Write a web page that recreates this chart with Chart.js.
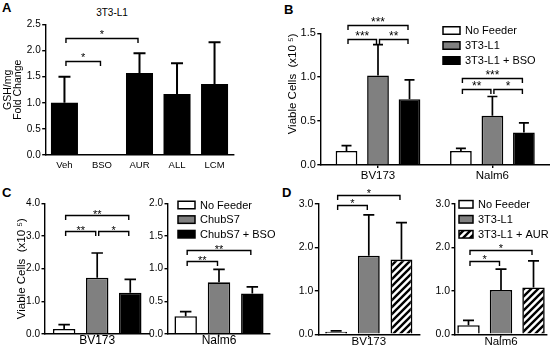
<!DOCTYPE html>
<html>
<head>
<meta charset="utf-8">
<script src="https://cdn.jsdelivr.net/npm/chart.js@4.4.1/dist/chart.umd.min.js"></script>
<style>
  html, body { margin: 0; padding: 0; background: #fff; overflow: hidden; }
  body { position: relative; width: 550px; height: 351px; font-family: "Liberation Sans", Arial, sans-serif; color: #000; }
  canvas, .txt { position: absolute; }
  .letter { font-weight: bold; font-size: 13px; line-height: 15px; }
</style>
</head>
<body>
<div class="txt letter" style="left:2px;top:0px">A</div>
<div class="txt letter" style="left:284px;top:2px">B</div>
<div class="txt letter" style="left:2px;top:185px">C</div>
<div class="txt letter" style="left:282px;top:185px">D</div>
<div class="txt" style="left:62px;top:7px;width:100px;text-align:center;font-size:10px;line-height:12px">3T3-L1</div>

<canvas id="chartA"></canvas>
<canvas id="chartB"></canvas>
<canvas id="chartC1"></canvas>
<canvas id="chartC2"></canvas>
<canvas id="chartD1"></canvas>
<canvas id="chartD2"></canvas>

<script>
// ---- A: GSH/mg fold change, 3T3-L1
const aLabels = ["Veh", "BSO", "AUR", "ALL", "LCM"];
const aMean = [1.0, null, 1.57, 1.17, 1.36];
const aSD = [0.5, null, 0.38, 0.59, 0.8];
// [fromCat, toCat, y, text]
const aBrackets = [[0, 2, 2.25, "*"], [0, 1, 1.8, "*"]];

// ---- B: viable cells with 3T3-L1 +/- BSO
const bLabels = ["BV173", "Nalm6"];
const bNoFeeder = [0.16, 0.16];
const bNoFeederSD = [0.06, 0.03];
const b3T3 = [1.02, 0.56];
const b3T3SD = [0.35, 0.22];
const b3T3BSO = [0.75, 0.37];
const b3T3BSOSD = [0.22, 0.11];
// [cat, fromSeries, toSeries, y, text]
const bBrackets = [
  [0, 0, 2, 1.6, "***"], [0, 0, 1, 1.44, "***"], [0, 1, 2, 1.44, "**"],
  [1, 0, 2, 0.99, "***"], [1, 0, 1, 0.86, "**"], [1, 1, 2, 0.86, "*"],
];

// ---- C: ChubS7 +/- BSO
const cLeftLabels = ["BV173"];
const cLeftNoFeeder = [0.15], cLeftNoFeederSD = [0.13];
const cLeftChub = [1.72], cLeftChubSD = [0.76];
const cLeftChubBSO = [1.26], cLeftChubBSOSD = [0.41];
const cLeftBrackets = [[0, 0, 2, 3.65, "**"], [0, 0, 1, 3.16, "**"], [0, 1, 2, 3.16, "*"]];

const cRightLabels = ["Nalm6"];
const cRightNoFeeder = [0.27], cRightNoFeederSD = [0.07];
const cRightChub = [0.79], cRightChubSD = [0.2];
const cRightChubBSO = [0.62], cRightChubBSOSD = [0.1];
const cRightBrackets = [[0, 0, 2, 1.29, "**"], [0, 0, 1, 1.12, "**"]];

// ---- D: 3T3-L1 +/- AUR
const dLeftLabels = ["BV173"];
const dLeftNoFeeder = [0.06], dLeftNoFeederSD = [0.02];
const dLeft3T3 = [1.81], dLeft3T3SD = [0.94];
const dLeft3T3AUR = [1.72], dLeft3T3AURSD = [0.85];
const dLeftBrackets = [[0, 0, 2, 3.21, "*"], [0, 0, 1, 2.97, "*"]];

const dRightLabels = ["Nalm6"];
const dRightNoFeeder = [0.21], dRightNoFeederSD = [0.11];
const dRight3T3 = [1.02], dRight3T3SD = [0.48];
const dRight3T3AUR = [1.08], dRight3T3AURSD = [0.61];
const dRightBrackets = [[0, 0, 2, 1.93, "*"], [0, 0, 1, 1.68, "*"]];

const FONT = '"Liberation Sans", Arial, sans-serif';
Chart.defaults.font.family = FONT;
Chart.defaults.color = "#000";

const GREY = "#808080";

function hatchPattern() {
  const c = document.createElement("canvas");
  c.width = 7;
  c.height = 7;
  const g = c.getContext("2d");
  g.fillStyle = "#fff";
  g.fillRect(0, 0, 7, 7);
  g.strokeStyle = "#000";
  g.lineWidth = 2.4;
  g.beginPath();
  g.moveTo(0, 7); g.lineTo(7, 0);
  g.moveTo(-1, 1); g.lineTo(1, -1);
  g.moveTo(6, 8); g.lineTo(8, 6);
  g.stroke();
  return g.createPattern(c, "repeat");
}
const HATCH = hatchPattern();

function barX(chart, ds, idx) {
  const el = chart.getDatasetMeta(ds).data[idx];
  return el && isFinite(el.x) ? el.x : chart.scales.x.getPixelForValue(idx);
}

// error bars (upward only), significance brackets, legend
const extras = {
  id: "extras",
  afterDatasetsDraw(chart, args, o) {
    const ctx = chart.ctx;
    const y = chart.scales.y;
    ctx.save();
    ctx.strokeStyle = "#000";
    ctx.fillStyle = "#000";

    ctx.lineWidth = o.errWidth;
    chart.data.datasets.forEach((ds, i) => {
      chart.getDatasetMeta(i).data.forEach((bar, j) => {
        if (ds.data[j] == null || !ds.sd) return;
        const top = y.getPixelForValue(ds.data[j] + ds.sd[j]);
        ctx.beginPath();
        ctx.moveTo(bar.x, bar.y);
        ctx.lineTo(bar.x, top);
        ctx.moveTo(bar.x - o.cap / 2, top);
        ctx.lineTo(bar.x + o.cap / 2, top);
        ctx.stroke();
      });
    });

    ctx.lineWidth = 1.4;
    ctx.font = o.starSize + "px " + FONT;
    ctx.textAlign = "center";
    ctx.textBaseline = "alphabetic";
    (o.brackets || []).forEach(([a, b, v, t]) => {
      const x1 = barX(chart, a[0], a[1]) + 1.5;
      const x2 = barX(chart, b[0], b[1]) - 1.5;
      const py = Math.round(y.getPixelForValue(v)) + 0.5;
      ctx.beginPath();
      ctx.moveTo(x1, py + 4.5);
      ctx.lineTo(x1, py);
      ctx.lineTo(x2, py);
      ctx.lineTo(x2, py + 4.5);
      ctx.stroke();
      ctx.fillText(t, (x1 + x2) / 2, py + o.starDy);
    });

    if (o.legend) {
      const L = o.legend;
      ctx.font = "11px " + FONT;
      ctx.textAlign = "left";
      ctx.textBaseline = "middle";
      ctx.lineWidth = 1.5;
      chart.data.datasets.forEach((ds, i) => {
        const cy = L.y + i * L.row;
        ctx.fillStyle = ds.backgroundColor;
        ctx.fillRect(L.x, cy - L.boxH / 2, L.boxW, L.boxH);
        ctx.strokeRect(L.x, cy - L.boxH / 2, L.boxW, L.boxH);
        ctx.fillStyle = "#000";
        ctx.fillText(ds.label, L.x + L.boxW + 5, cy + 0.5);
      });
    }
    ctx.restore();
  },
};

function series(label, color, data, sd) {
  return { label, data, sd, backgroundColor: color };
}

// g = canvas box and chart area in page pixels
function panel(id, g, labels, datasets, o) {
  const el = document.getElementById(id);
  el.width = g.w;
  el.height = g.h;
  el.style.left = g.x + "px";
  el.style.top = g.y + "px";
  if (o.legend) o.legend = { ...o.legend, x: o.legend.x - g.x, y: o.legend.y - g.y };

  return new Chart(el, {
    type: "bar",
    data: { labels, datasets },
    plugins: [extras],
    options: {
      responsive: false,
      animation: false,
      devicePixelRatio: 1,
      layout: {
        autoPadding: false,
        padding: { left: 0, top: g.top - g.y, right: g.x + g.w - g.right, bottom: 0 },
      },
      datasets: {
        bar: {
          categoryPercentage: o.catPct,
          barPercentage: o.barPct,
          borderColor: "#000",
          borderWidth: o.barBorder,
        },
      },
      plugins: {
        legend: { display: false },
        tooltip: { enabled: false },
        extras: o,
      },
      scales: {
        x: {
          border: { display: true, color: "#000", width: 1.4 },
          grid: {
            drawOnChartArea: false,
            drawTicks: o.xTicks,
            tickLength: 3,
            color: "#000",
            lineWidth: 1.4,
            offset: false,
          },
          ticks: {
            font: { size: o.xFont, lineHeight: 1 },
            padding: o.xPad,
            maxRotation: 0,
            autoSkip: false,
          },
          afterFit: (s) => {
            s.height = g.y + g.h - g.bottom;
            s.paddingLeft = 0;
            s.paddingRight = 0;
          },
        },
        y: {
          min: 0,
          max: o.max,
          border: { display: true, color: "#000", width: 1.4 },
          grid: {
            drawOnChartArea: false,
            drawTicks: true,
            tickLength: 3.5,
            color: "#000",
            lineWidth: 1.4,
          },
          ticks: {
            stepSize: o.step,
            font: { size: o.yFont },
            padding: 1.5,
            callback: (v) => v.toFixed(1),
          },
          title: o.yTitle || { display: false },
          afterFit: (s) => {
            s.width = g.left - g.x;
            s.paddingTop = 0;
            s.paddingBottom = 0;
          },
        },
      },
    },
  });
}

const cellsTitle = (size, pad, align) => ({
  display: true,
  text: "Viable Cells  (x10 \u2075)",
  font: { size, lineHeight: 1.2 },
  padding: { top: pad, bottom: 0 },
  align,
});

panel(
  "chartA",
  { x: 0, y: 0, w: 240, h: 175, left: 45.7, top: 24.5, right: 233.3, bottom: 155 },
  aLabels,
  [{ label: "3T3-L1", data: aMean, sd: aSD, backgroundColor: "#000", borderWidth: 0 }],
  {
    max: 2.5, step: 0.5, yFont: 10, xFont: 9.5, xPad: 5.5, xTicks: false,
    catPct: 1, barPct: 0.72, barBorder: 0, errWidth: 2, cap: 12,
    starSize: 11, starDy: -0.5,
    brackets: aBrackets.map(([i, j, v, t]) => [[0, i], [0, j], v, t]),
    yTitle: {
      display: true,
      text: ["GSH/mg", "Fold Change"],
      font: { size: 10.5, lineHeight: 0.9 },
      padding: { top: 3.8, bottom: 0 },
    },
  }
);

const grouped = (list) => list.map(([c, a, b, v, t]) => [[a, c], [b, c], v, t]);

panel(
  "chartB",
  { x: 285, y: 0, w: 265, h: 185, left: 320.8, top: 33.3, right: 549.6, bottom: 165 },
  bLabels,
  [
    series("No Feeder", "#fff", bNoFeeder, bNoFeederSD),
    series("3T3-L1", GREY, b3T3, b3T3SD),
    series("3T3-L1 + BSO", "#000", b3T3BSO, b3T3BSOSD),
  ],
  {
    max: 1.5, step: 0.5, yFont: 11, xFont: 11.5, xPad: 2, xTicks: true,
    catPct: 0.826, barPct: 0.69, barBorder: 1.6, errWidth: 1.7, cap: 10,
    starSize: 12, starDy: 0.5,
    brackets: grouped(bBrackets),
    legend: { x: 443, y: 30.5, row: 15, boxW: 17, boxH: 7.5 },
    yTitle: cellsTitle(11.5, 0.6, "end"),
  }
);

panel(
  "chartC1",
  { x: 0, y: 178, w: 152, h: 173, left: 45, top: 203.5, right: 149.4, bottom: 333.8 },
  cLeftLabels,
  [
    series("No Feeder", "#fff", cLeftNoFeeder, cLeftNoFeederSD),
    series("ChubS7", GREY, cLeftChub, cLeftChubSD),
    series("ChubS7 + BSO", "#000", cLeftChubBSO, cLeftChubBSOSD),
  ],
  {
    max: 4, step: 1, yFont: 10, xFont: 12, xPad: -2, xTicks: true,
    catPct: 0.95, barPct: 0.68, barBorder: 1.6, errWidth: 1.7, cap: 11.5,
    starSize: 11, starDy: 2.5,
    brackets: grouped(cLeftBrackets),
    yTitle: cellsTitle(11.5, 14.5, "center"),
  }
);

panel(
  "chartC2",
  { x: 140, y: 178, w: 145, h: 173, left: 168, top: 203.5, right: 270, bottom: 333.8 },
  cRightLabels,
  [
    series("No Feeder", "#fff", cRightNoFeeder, cRightNoFeederSD),
    series("ChubS7", GREY, cRightChub, cRightChubSD),
    series("ChubS7 + BSO", "#000", cRightChubBSO, cRightChubBSOSD),
  ],
  {
    max: 2, step: 0.5, yFont: 10, xFont: 12, xPad: -2, xTicks: true,
    catPct: 0.98, barPct: 0.675, barBorder: 1.6, errWidth: 1.7, cap: 11.5,
    starSize: 11, starDy: 2.5,
    brackets: grouped(cRightBrackets),
    legend: { x: 178, y: 205, row: 14.6, boxW: 17, boxH: 7.5 },
  }
);

panel(
  "chartD1",
  { x: 290, y: 178, w: 135, h: 173, left: 318.3, top: 204, right: 419.3, bottom: 334.3 },
  dLeftLabels,
  [
    series("No Feeder", "#fff", dLeftNoFeeder, dLeftNoFeederSD),
    series("3T3-L1", GREY, dLeft3T3, dLeft3T3SD),
    series("3T3-L1 + AUR", HATCH, dLeft3T3AUR, dLeft3T3AURSD),
  ],
  {
    max: 3, step: 1, yFont: 10.5, xFont: 11.5, xPad: -1, xTicks: true,
    catPct: 0.97, barPct: 0.67, barBorder: 1.6, errWidth: 1.7, cap: 11,
    starSize: 11, starDy: 1.5,
    brackets: grouped(dLeftBrackets),
  }
);

panel(
  "chartD2",
  { x: 425, y: 178, w: 130, h: 173, left: 455, top: 204, right: 547, bottom: 334.3 },
  dRightLabels,
  [
    series("No Feeder", "#fff", dRightNoFeeder, dRightNoFeederSD),
    series("3T3-L1", GREY, dRight3T3, dRight3T3SD),
    series("3T3-L1 + AUR", HATCH, dRight3T3AUR, dRight3T3AURSD),
  ],
  {
    max: 3, step: 1, yFont: 10.5, xFont: 11.5, xPad: -1, xTicks: true,
    catPct: 1.06, barPct: 0.69, barBorder: 1.6, errWidth: 1.7, cap: 11,
    starSize: 11, starDy: 1.5,
    brackets: grouped(dRightBrackets),
    legend: { x: 459, y: 204.3, row: 15, boxW: 14, boxH: 7.5 },
  }
);
</script>
</body>
</html>
